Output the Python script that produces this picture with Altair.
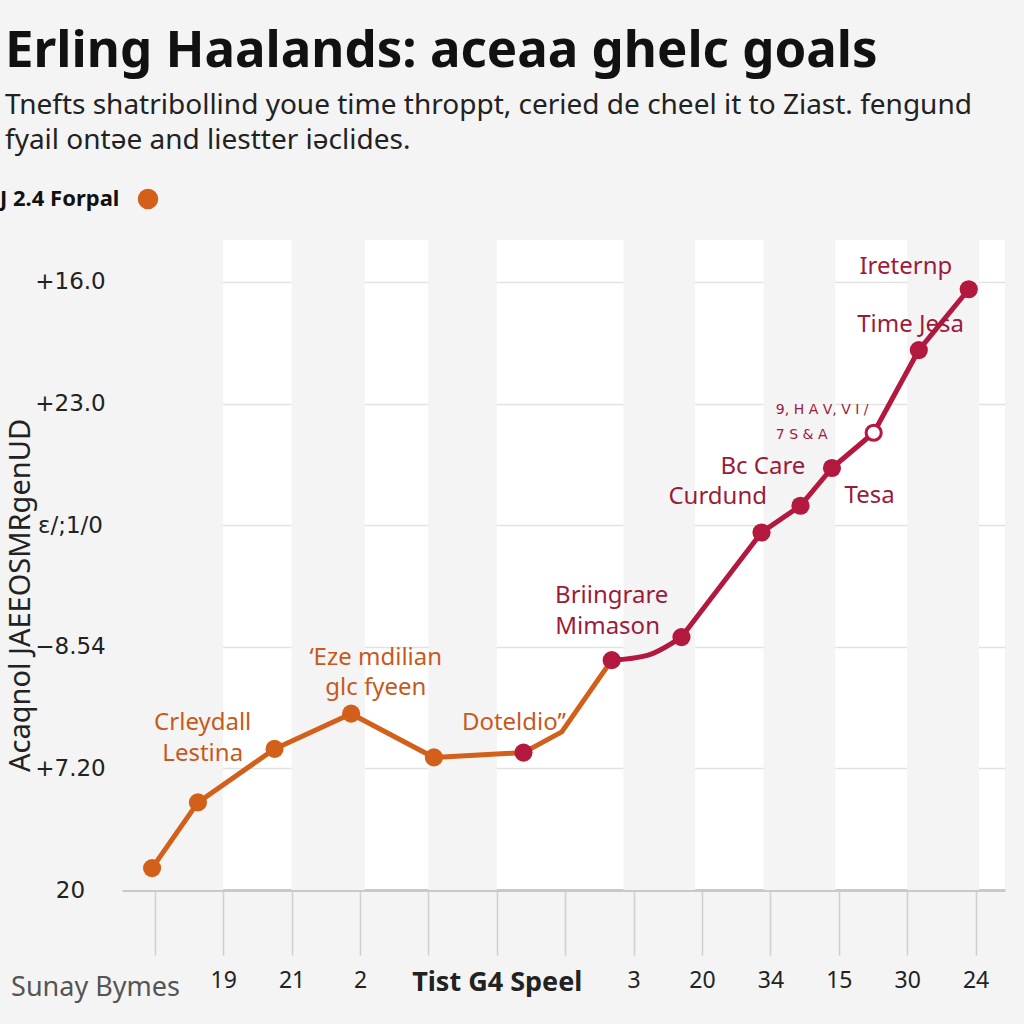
import altair as alt
import pandas as pd

# ---------------- data ----------------
title_text = "Erling Haalands: aceaa ghelc goals"
subtitle_lines = [
    "Tnefts shatribollind youe time throppt, ceried de cheel it to Ziast. fengund",
    "fyail ontəe and liestter iəclides.",
]
legend_label = "J 2.4 Forpal"
y_axis_title = "Acaqnol JAEEOSMRgenUD"
x_axis_title = "Sunay Bymes"

x_tick_values = list(range(13))
x_tick_labels = ["", "19", "21", "2", "", "Tist G4 Speel", "", "3", "20", "34", "15", "30", "24"]
y_tick_values = [0, 1, 2, 3, 4, 5]
y_tick_labels = ["20", "+7.20", "\u22128.54", "\u025b/;1/0", "+23.0", "+16.0"]

# orange segment (early period)
orange_x = [-0.04, 0.63, 1.75, 2.87, 4.08, 5.39, 5.95, 6.68]
orange_y = [0.18, 0.72, 1.16, 1.45, 1.09, 1.13, 1.30, 1.89]
# crimson segment (later period)
crimson_curve_x = [6.68, 7.20, 7.70]
crimson_curve_y = [1.89, 1.93, 2.08]
crimson_x = [7.70, 8.87, 9.44, 9.90, 10.51, 11.17, 11.90]
crimson_y = [2.08, 2.94, 3.16, 3.47, 3.76, 4.44, 4.94]

# dots
orange_dot_x = [-0.04, 0.63, 1.75, 2.87, 4.08]
orange_dot_y = [0.18, 0.72, 1.16, 1.45, 1.09]
crimson_dot_x = [5.39, 6.68, 7.70, 8.87, 9.44, 9.90, 11.17, 11.90]
crimson_dot_y = [1.13, 1.89, 2.08, 2.94, 3.16, 3.47, 4.44, 4.94]
open_dot_x = [10.51]
open_dot_y = [3.76]

# shaded columns (in tick units)
band_start = [-0.48, 2.0, 4.0, 6.85, 8.9, 11.0]
band_end = [1.0, 3.07, 5.0, 7.9, 9.95, 12.05]

# annotations (centred)
ann_text = ["Crleydall", "Lestina", "\u2018Eze mdilian", "glc fyeen", "Doteldio\u2019\u2019",
            "Briingrare", "Mimason", "Bc Care", "Curdund", "Tesa", "Time Jesa", "Ireternp"]
ann_x = [0.70, 0.70, 3.23, 3.23, 5.25, 6.68, 6.62, 8.89, 8.23, 10.45, 11.05, 10.98]
ann_y = [1.37, 1.12, 1.91, 1.66, 1.37, 2.42, 2.16, 3.48, 3.23, 3.24, 4.65, 5.12]
ann_group = ["o", "o", "o", "o", "o", "c", "c", "c", "c", "c", "c", "c"]
# small annotations (left aligned)
small_text = ["9, H A V, V I /", "7 S & A"]
small_x = [9.08, 9.08]
small_y = [3.95, 3.74]

# ---------------- styling ----------------
ORANGE = "#d2601a"
CRIMSON = "#b3183f"
ORANGE_TXT = "#c65a1c"
CRIMSON_TXT = "#9c1b3b"
W, H = 883, 650

x_scale = alt.Scale(domain=[-0.48, 12.43], nice=False, zero=False)
y_scale = alt.Scale(domain=[0, 5.345], nice=False, zero=False)

x_expr = "[" + ",".join("'" + s + "'" for s in x_tick_labels) + "][datum.value]"
y_expr = "[" + ",".join("'" + s + "'" for s in y_tick_labels) + "][datum.value]"

x_axis = alt.Axis(
    values=x_tick_values, labelExpr=x_expr, grid=False,
    domainColor="#c9c9c9", domainWidth=3,
    tickColor="#cfcfcf", tickWidth=1.5, tickSize=65,
    labelFont="Noto Sans", labelColor="#222",
    labelFontSize={"condition": {"test": "datum.value == 5", "value": 27}, "value": 23},
    labelFontWeight={"condition": {"test": "datum.value == 5", "value": "bold"}, "value": "normal"},
    labelPadding=14, labelOverlap=False, labelFlush=False,
    title=x_axis_title, titleX=-27, titleY=97, titleAlign="center", titleBaseline="middle",
    titleFont="Noto Sans", titleFontSize=27, titleFontWeight="normal", titleColor="#555",
)
y_axis = alt.Axis(
    values=y_tick_values, labelExpr=y_expr, grid=True,
    gridColor="#e2e2e2", gridWidth=1.5, ticks=False, domain=False,
    labelFont="DejaVu Sans", labelFontSize=23, labelColor="#222",
    labelAlign="center", labelPadding=52, labelFlush=False, labelOverlap=False,
    title=y_axis_title, titleX=-102, titleY=355, titleAngle=270,
    titleAlign="center", titleBaseline="middle",
    titleFont="Noto Sans", titleFontSize=29, titleFontWeight="normal", titleColor="#222",
)

bands_df = pd.DataFrame({"x": band_start, "x2": band_end})
bands = alt.Chart(bands_df).mark_rect(color="#f4f4f4").encode(
    x=alt.X("x:Q", scale=x_scale, axis=x_axis),
    x2="x2:Q",
    y=alt.value(0),
    y2=alt.value(H),
)

# axis carrier for y (invisible)
yaxis_df = pd.DataFrame({"x": [0.0], "y": [0.0]})
ycarrier = alt.Chart(yaxis_df).mark_point(opacity=0).encode(
    x=alt.X("x:Q", scale=x_scale),
    y=alt.Y("y:Q", scale=y_scale, axis=y_axis),
)

orange_df = pd.DataFrame({"x": orange_x, "y": orange_y})
line_o = alt.Chart(orange_df).mark_line(color=ORANGE, strokeWidth=5, strokeCap="round",
                                        strokeJoin="round").encode(
    x=alt.X("x:Q", scale=x_scale), y=alt.Y("y:Q", scale=y_scale))
line_c0 = alt.Chart(pd.DataFrame({"x": crimson_curve_x, "y": crimson_curve_y})).mark_line(
    color=CRIMSON, strokeWidth=5, interpolate="monotone", strokeCap="round").encode(
    x=alt.X("x:Q", scale=x_scale), y=alt.Y("y:Q", scale=y_scale))
line_c = alt.Chart(pd.DataFrame({"x": crimson_x, "y": crimson_y})).mark_line(
    color=CRIMSON, strokeWidth=5, strokeCap="round", strokeJoin="round").encode(
    x=alt.X("x:Q", scale=x_scale), y=alt.Y("y:Q", scale=y_scale))

dots_o = alt.Chart(pd.DataFrame({"x": orange_dot_x, "y": orange_dot_y})).mark_circle(
    color=ORANGE, size=330, opacity=1).encode(
    x=alt.X("x:Q", scale=x_scale), y=alt.Y("y:Q", scale=y_scale))
dots_c = alt.Chart(pd.DataFrame({"x": crimson_dot_x, "y": crimson_dot_y})).mark_circle(
    color=CRIMSON, size=330, opacity=1).encode(
    x=alt.X("x:Q", scale=x_scale), y=alt.Y("y:Q", scale=y_scale))
dots_open = alt.Chart(pd.DataFrame({"x": open_dot_x, "y": open_dot_y})).mark_point(
    filled=True, fill="white", stroke=CRIMSON, strokeWidth=3, size=230, opacity=1,
    fillOpacity=1).encode(
    x=alt.X("x:Q", scale=x_scale), y=alt.Y("y:Q", scale=y_scale))

ann_df = pd.DataFrame({"t": ann_text, "x": ann_x, "y": ann_y, "g": ann_group})
ann = alt.Chart(ann_df).mark_text(font="Noto Sans", fontSize=24, align="center",
                                  baseline="middle").encode(
    x=alt.X("x:Q", scale=x_scale), y=alt.Y("y:Q", scale=y_scale),
    text="t:N",
    color=alt.Color("g:N", scale=alt.Scale(domain=["o", "c"], range=[ORANGE_TXT, CRIMSON_TXT]),
                    legend=None),
)
small_df = pd.DataFrame({"t": small_text, "x": small_x, "y": small_y})
small = alt.Chart(small_df).mark_text(font="DejaVu Sans", fontSize=14, align="left",
                                      baseline="middle", color=CRIMSON_TXT).encode(
    x=alt.X("x:Q", scale=x_scale), y=alt.Y("y:Q", scale=y_scale), text="t:N")

leg_df = pd.DataFrame({"t": [legend_label]})
leg_text = alt.Chart(leg_df).mark_text(font="Noto Sans", fontSize=22, fontWeight="bold",
                                       align="left", baseline="middle", color="#111").encode(
    x=alt.value(-122), y=alt.value(-41), text="t:N")
leg_dot = alt.Chart(leg_df).mark_circle(color=ORANGE, size=420, opacity=1).encode(
    x=alt.value(26), y=alt.value(-41))

chart = alt.layer(
    bands, ycarrier, line_o, line_c0, line_c, dots_o, dots_c, dots_open, ann, small,
    leg_text, leg_dot
).properties(
    width=W, height=H,
    background="#f4f4f4",
    padding={"left": 122, "top": 240, "right": 19, "bottom": 134},
    autosize=alt.AutoSizeParams(type="none"),
    title=alt.TitleParams(
        text=title_text, subtitle=subtitle_lines,
        anchor="start", frame="group", dx=-117, offset=32,
        font="Noto Sans", fontSize=51, fontWeight="bold", color="#111",
        subtitleFont="Noto Sans", subtitleFontSize=28, subtitleColor="#222",
        subtitleLineHeight=35, subtitlePadding=14,
    ),
).configure_view(fill="white", stroke=None)

chart.save("out.html", embed_options={"renderer": "svg", "actions": False})
